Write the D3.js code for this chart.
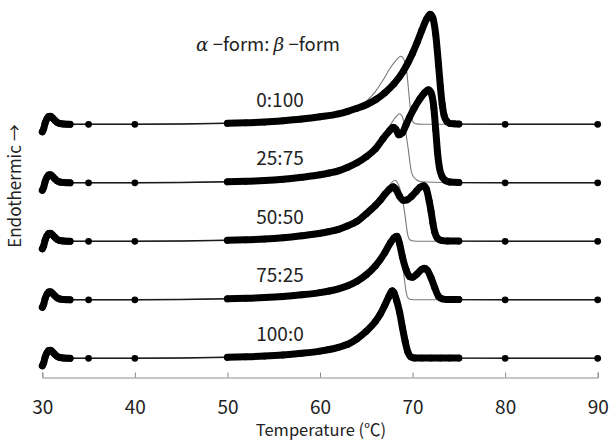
<!DOCTYPE html>
<html>
<head>
<meta charset="utf-8">
<script src="https://cdn.jsdelivr.net/npm/d3@7/dist/d3.min.js"></script>
<style>
  html, body { margin: 0; padding: 0; background: #fff; }
  svg { display: block; }
  text { font-family: "Noto Sans CJK JP", "Noto Sans", sans-serif; fill: #222; }
</style>
</head>
<body>
<svg id="chart" width="610" height="441"></svg>
<script>
// DSC heating curves of α/β-form blends (heat flow in arbitrary units, traces offset vertically)
const mixLabels = ["0:100", "25:75", "50:50", "75:25", "100:0"];
const traceOffsets = [23.4, 17.55, 11.7, 5.85, 0];
const xTicks = [30, 40, 50, 60, 70, 80, 90];
// temperature windows recorded with a dense sampling rate
const denseRanges = [[29.9, 33.1], [49.9, 75.1]];

// start-up transient of the instrument (same for every run)
const transient = [[30.0, -0.75], [30.15, -0.45], [30.3, 0.1], [30.5, 0.55], [30.7, 0.78], [30.9, 0.8],
  [31.1, 0.65], [31.35, 0.4], [31.6, 0.2], [31.9, 0.08], [32.3, 0.03], [32.7, 0.01], [33.0, 0]];
const leadIn = [[35, 0], [40, 0]];
const tailOut = [[80, 0], [90, 0]];

// measured curves (°C, heat flow)
const meas_0_100 = [[50, 0.1], [52, 0.15], [54, 0.22], [56, 0.35], [58, 0.52], [60, 0.75], [62, 1.05],
  [63, 1.3], [64, 1.6], [65, 1.95], [66, 2.45], [67, 3.15], [68, 4.05], [69, 5.3], [70, 7.1], [70.5, 8.2],
  [71, 9.4], [71.5, 10.5], [71.9, 11.0], [72.2, 10.6], [72.5, 9.0], [72.8, 6.0], [73.0, 3.8], [73.2, 2.0],
  [73.4, 0.9], [73.7, 0.3], [74.0, 0.1], [74.5, 0.05], [75, 0.02]];
const meas_25_75 = [[50, 0.1], [52, 0.15], [54, 0.22], [56, 0.35], [58, 0.55], [60, 0.8], [61, 0.98],
  [62, 1.2], [63, 1.55], [64, 2.0], [65, 2.6], [66, 3.4], [66.8, 4.4], [67.5, 5.2], [67.9, 5.55], [68.2, 5.35],
  [68.5, 4.8], [68.9, 5.0], [69.3, 5.8], [69.7, 6.6], [70.2, 7.5], [70.8, 8.4], [71.3, 9.0], [71.7, 9.3],
  [72.0, 9.0], [72.3, 7.5], [72.5, 5.3], [72.7, 3.0], [72.9, 1.5], [73.2, 0.6], [73.6, 0.2], [74.0, 0.08], [75, 0.02]];
const meas_50_50 = [[50, 0.1], [52, 0.15], [54, 0.22], [56, 0.35], [58, 0.55], [60, 0.8], [61, 0.98],
  [62, 1.2], [63, 1.55], [64, 2.0], [65, 2.75], [66, 3.6], [66.5, 4.1], [67, 4.7], [67.5, 5.2], [67.9, 5.45],
  [68.2, 5.2], [68.6, 4.5], [69.0, 4.1], [69.4, 4.15], [69.9, 4.5], [70.4, 5.0], [70.8, 5.4], [71.2, 5.55],
  [71.5, 5.2], [71.8, 4.0], [72.0, 3.0], [72.2, 1.8], [72.4, 0.9], [72.7, 0.3], [73.1, 0.1], [73.8, 0.03], [75, 0.02]];
const meas_75_25 = [[50, 0.1], [52, 0.15], [54, 0.22], [56, 0.33], [58, 0.5], [60, 0.72], [61, 0.88],
  [62, 1.1], [63, 1.4], [64, 1.85], [65, 2.5], [66, 3.4], [67, 4.7], [67.6, 5.7], [68.0, 6.2], [68.3, 6.35],
  [68.6, 5.6], [68.9, 4.3], [69.3, 3.0], [69.7, 2.3], [70.0, 2.25], [70.5, 2.6], [71.0, 3.05], [71.3, 3.15],
  [71.6, 2.95], [72.0, 2.2], [72.4, 1.2], [72.8, 0.35], [73.2, 0.1], [73.8, 0.03], [75, 0.02]];
const meas_100_0 = [[50, 0.1], [52, 0.15], [54, 0.22], [56, 0.33], [58, 0.5], [60, 0.72], [61, 0.88],
  [62, 1.1], [63, 1.4], [64, 1.95], [65, 2.7], [66, 3.7], [66.5, 4.4], [67, 5.3], [67.4, 6.1], [67.8, 6.75],
  [68.0, 6.55], [68.3, 5.7], [68.6, 4.6], [68.9, 3.1], [69.2, 1.7], [69.5, 0.6], [69.8, 0.15], [70.2, 0.03],
  [71, 0.02], [72, 0.02], [73, 0.02], [74, 0.02], [75, 0.02]];

// calculated curves (thin lines)
const calc_0_100 = [[33, 0], [35, 0], [40, 0], [50, 0.1], [54, 0.22], [58, 0.52], [60, 0.75], [62, 1.05],
  [64, 1.6], [65, 2.3], [66, 3.3], [66.8, 4.4], [67.5, 5.5], [68.3, 6.5], [68.75, 6.8], [69.1, 6.4],
  [69.3, 5.8], [69.6, 3.1], [69.8, 1.2], [70.0, 0.3], [70.3, 0.05], [71, 0], [75, 0], [80, 0], [90, 0]];
const calc_25_75 = [[33, 0], [35, 0], [40, 0], [50, 0.1], [54, 0.22], [58, 0.55], [60, 0.8], [62, 1.2],
  [64, 2.0], [65, 2.65], [66, 3.55], [66.8, 4.65], [67.5, 5.65], [68.2, 6.6], [68.6, 6.9], [68.9, 6.6],
  [69.2, 5.4], [69.5, 3.6], [69.9, 1.0], [70.4, 0.3], [71, 0.1], [75, 0], [80, 0], [90, 0]];
const calc_50_50 = [[33, 0], [35, 0], [40, 0], [50, 0.1], [54, 0.22], [58, 0.55], [60, 0.8], [62, 1.2],
  [64, 2.0], [65, 2.75], [66, 3.65], [66.8, 4.7], [67.5, 5.6], [68.1, 6.1], [68.5, 5.6], [68.9, 4.3],
  [69.2, 2.5], [69.45, 0.8], [69.7, 0.15], [70.1, 0.03], [71, 0], [75, 0], [80, 0], [90, 0]];
const calc_75_25 = [[33, 0], [35, 0], [40, 0], [50, 0.1], [54, 0.22], [58, 0.5], [60, 0.72], [62, 1.1],
  [64, 1.85], [65, 2.55], [66, 3.5], [67, 4.8], [67.6, 5.7], [68.0, 6.1], [68.3, 6.25], [68.6, 5.3],
  [68.9, 3.8], [69.1, 2.2], [69.3, 0.8], [69.5, 0.2], [69.8, 0.03], [70.5, 0], [75, 0], [80, 0], [90, 0]];
const calc_100_0 = [[33, 0], [35, 0], [40, 0], [50, 0.1], [54, 0.22], [58, 0.5], [60, 0.72], [62, 1.1],
  [64, 2.0], [65, 2.8], [66, 3.9], [66.5, 4.6], [67, 5.45], [67.4, 6.2], [67.8, 6.75], [68.0, 6.55],
  [68.3, 5.7], [68.6, 4.6], [68.9, 3.1], [69.2, 1.7], [69.5, 0.6], [69.8, 0.15], [70.2, 0.03], [71, 0],
  [75, 0], [80, 0], [90, 0]];

const measured = [meas_0_100, meas_25_75, meas_50_50, meas_75_25, meas_100_0];
const calculated = [calc_0_100, calc_25_75, calc_50_50, calc_75_25, calc_100_0];

const svg = d3.select("#chart");
const x = d3.scaleLinear().domain([30, 90]).range([42.3, 597.7]);
const y = d3.scaleLinear().domain([-1.92, 35.83]).range([377.5, 0]);

const line = (off) => d3.line()
  .x(d => x(d[0]))
  .y(d => y(d[1] + off))
  .curve(d3.curveMonotoneX);

const inDense = d => denseRanges.some(r => d[0] >= r[0] && d[0] <= r[1]);

measured.forEach((meas, i) => {
  const off = traceOffsets[i];
  const series = transient.concat(leadIn, meas, tailOut);
  const g = svg.append("g");

  // calculated curve
  g.append("path")
    .attr("d", line(off)(calculated[i]))
    .attr("fill", "none")
    .attr("stroke", "#7a7a7a")
    .attr("stroke-width", 1.1);

  // measured curve: connecting line
  g.append("path")
    .attr("d", line(off)(series))
    .attr("fill", "none")
    .attr("stroke", "#1a1a1a")
    .attr("stroke-width", 1.4);

  // densely sampled stretches appear as a solid band of markers
  [transient, meas].forEach(seg => {
    g.append("path")
      .attr("d", line(off)(seg.filter(inDense)))
      .attr("fill", "none")
      .attr("stroke", "#000")
      .attr("stroke-width", 7)
      .attr("stroke-linejoin", "round")
      .attr("stroke-linecap", "round");
  });

  g.selectAll("circle")
    .data(series)
    .join("circle")
    .attr("cx", d => x(d[0]))
    .attr("cy", d => y(d[1] + off))
    .attr("r", 3.4)
    .attr("fill", "#000");

  // blend ratio label
  svg.append("text")
    .attr("x", 280)
    .attr("y", y(off + 2.4))
    .attr("dy", "0.35em")
    .attr("text-anchor", "middle")
    .attr("font-size", 19)
    .text(mixLabels[i]);
});

// header over the ratio labels
const head = svg.append("text")
  .attr("x", 268)
  .attr("y", 45)
  .attr("dy", "0.35em")
  .attr("text-anchor", "middle")
  .attr("font-size", 18.5);
head.append("tspan").attr("font-style", "italic").attr("font-family", "DejaVu Serif").text("α");
head.append("tspan").text(" −form: ");
head.append("tspan").attr("font-style", "italic").attr("font-family", "DejaVu Serif").text("β");
head.append("tspan").text(" −form");

// temperature axis
const xAxis = d3.axisBottom(x).tickValues(xTicks).tickSize(-5).tickPadding(23).tickFormat(d3.format("d"));
const ax = svg.append("g").attr("transform", `translate(0,${y(-1.92)})`).call(xAxis);
ax.select(".domain").attr("stroke", "#8c8c8c").attr("stroke-width", 1);
ax.selectAll(".tick line").attr("stroke", "#8c8c8c");
ax.selectAll(".tick text")
  .attr("font-size", 19)
  .attr("font-family", "\"Liberation Sans\", Arial, sans-serif")
  .attr("fill", "#222");

svg.append("text")
  .attr("x", 321)
  .attr("y", 436)
  .attr("text-anchor", "middle")
  .attr("font-family", "\"Liberation Sans\", \"Noto Sans CJK JP\", sans-serif")
  .attr("font-size", 16.5)
  .text("Temperature (℃)");

svg.append("text")
  .attr("transform", "translate(15,186) rotate(-90)")
  .attr("dy", "0.35em")
  .attr("text-anchor", "middle")
  .attr("font-size", 17)
  .text("Endothermic →");
</script>
</body>
</html>
